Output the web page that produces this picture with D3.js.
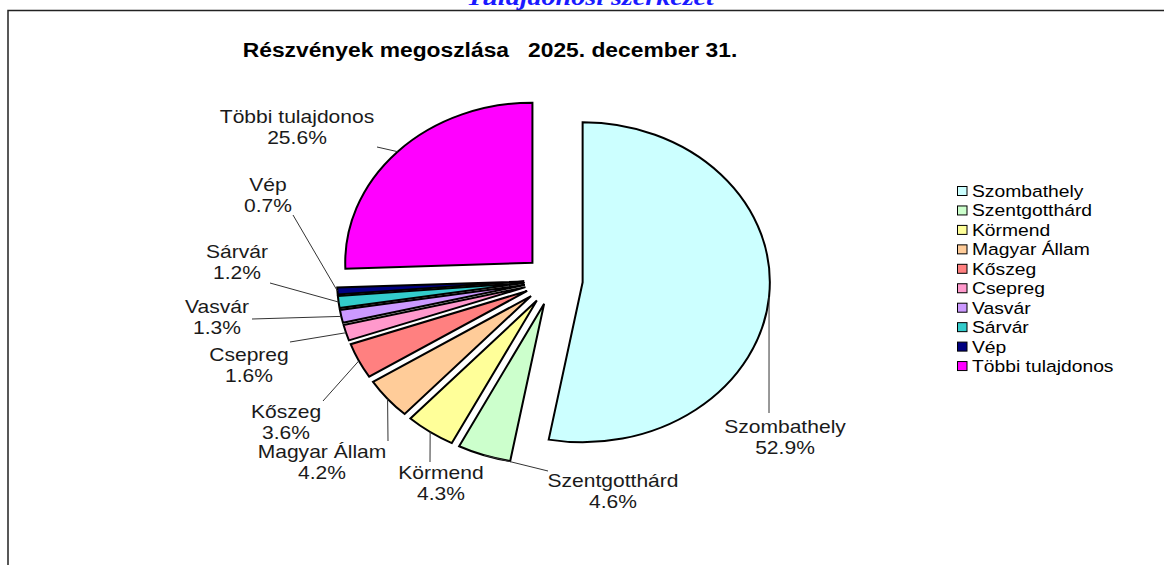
<!DOCTYPE html>
<html><head><meta charset="utf-8">
<script src="https://cdn.jsdelivr.net/npm/d3@7"></script>
<style>html,body{margin:0;padding:0;background:#fff;}svg{display:block;}text{white-space:pre;}</style>
</head><body>
<svg id="c" width="1164" height="565"></svg>
<script>
// ---- data ----
const categories = ["Szombathely","Szentgotthárd","Körmend","Magyar Állam","Kőszeg","Csepreg","Vasvár","Sárvár","Vép","Többi tulajdonos"];
const values = [52.9, 4.6, 4.3, 4.2, 3.6, 1.6, 1.3, 1.2, 0.7, 25.6];
const colors = ["#CCFFFF","#CCFFCC","#FFFF99","#FFCC99","#FF8080","#FF99CC","#CC99FF","#33CCCC","#000080","#FF00FF"];
const pageTitle = "Tulajdonosi szerkezet";
const chartTitle = "Részvények megoszlása   2025. december 31.";

// ---- layout ----
const SX = 1.17;                // horizontal stretch of the picture
const cx = 553.5, cy = 280, R = 160, explode = 25;
// label anchor (text centre x, first baseline y) and leader end point
const labelLayout = [
  {tx:785, ty:433, lx:769, ly:413},
  {tx:613, ty:487, lx:548, ly:471},
  {tx:441, ty:479, lx:430, ly:462},
  {tx:322, ty:458, lx:388, ly:441},
  {tx:286, ty:418, lx:323, ly:401},
  {tx:249, ty:361, lx:290, ly:342},
  {tx:217, ty:313, lx:252, ly:319},
  {tx:237, ty:258, lx:270, ly:283},
  {tx:268, ty:191, lx:293, ly:215},
  {tx:297, ty:123, lx:377, ly:147}
];

const svg = d3.select("#c");
const font = "'Liberation Sans', Arial, sans-serif";

// page title (clipped at top, as in the source document)
svg.append("text").attr("transform",`translate(590,5) scale(${SX},1)`)
  .attr("text-anchor","middle").attr("font-family","'Liberation Serif','Times New Roman',serif")
  .attr("font-style","italic").attr("font-weight","bold").attr("font-size",24)
  .attr("fill","#1a1aff").text(pageTitle);

// frame
svg.append("path").attr("d","M8,565 V10.5 H1164").attr("fill","none").attr("stroke","#222").attr("stroke-width",1.5);

// chart title
svg.append("text").attr("transform",`translate(490,57) scale(${SX},1)`)
  .attr("text-anchor","middle").attr("font-family",font).attr("font-weight","bold")
  .attr("font-size",19.5).attr("fill","#000").attr("xml:space","preserve").text(chartTitle);

const data = categories.map((c,i)=>({name:c,value:values[i],color:colors[i]}));
const pie = d3.pie().sort(null).value(d=>d.value).startAngle(0).endAngle(2*Math.PI);
const arcs = pie(data);
const arc = d3.arc().innerRadius(0).outerRadius(R);

const g = svg.append("g").attr("transform",`translate(${cx},${cy}) scale(${SX},1)`);
g.selectAll("path").data(arcs).join("path")
  .attr("transform",d=>{const m=(d.startAngle+d.endAngle)/2;return `translate(${explode*Math.sin(m)},${-explode*Math.cos(m)})`;})
  .attr("d",arc).attr("fill",d=>d.data.color)
  .attr("stroke","#000").attr("stroke-width",2).attr("stroke-linejoin","miter")
  .attr("vector-effect","non-scaling-stroke");

// leader lines & labels
arcs.forEach((d,i)=>{
  const m=(d.startAngle+d.endAngle)/2;
  const px = cx + SX*((explode+R)*Math.sin(m));
  const py = cy - (explode+R)*Math.cos(m);
  const L = labelLayout[i];
  svg.append("line").attr("x1",px).attr("y1",py).attr("x2",L.lx).attr("y2",L.ly)
    .attr("stroke","#333").attr("stroke-width",1);
  const t = svg.append("text").attr("transform",`translate(${L.tx},${L.ty}) scale(${SX},1)`)
    .attr("text-anchor","middle").attr("font-family",font).attr("font-size",18).attr("fill","#1a1a1a");
  t.append("tspan").attr("x",0).attr("y",0).text(d.data.name);
  t.append("tspan").attr("x",0).attr("y",21).text(d3.format(".1f")(d.data.value)+"%");
});

// legend
const lg = svg.append("g");
data.forEach((d,i)=>{
  const y = 191 + i*19.45;
  lg.append("rect").attr("x",957.5).attr("y",y-4.5).attr("width",9.5).attr("height",9)
    .attr("fill",d.color).attr("stroke","#000").attr("stroke-width",1);
  lg.append("text").attr("transform",`translate(972,${y+6}) scale(${SX},1)`)
    .attr("font-family",font).attr("font-size",16.5).attr("fill","#000").text(d.name);
});
</script>
</body></html>
